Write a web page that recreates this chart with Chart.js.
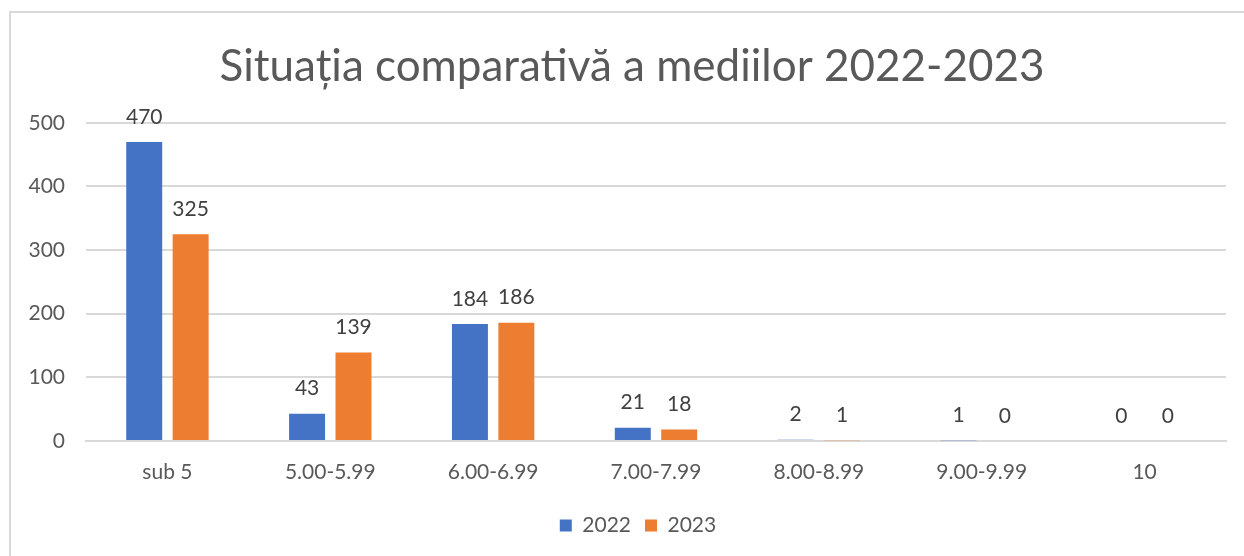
<!DOCTYPE html>
<html>
<head>
<meta charset="utf-8">
<script src="https://cdn.jsdelivr.net/npm/chart.js@4.4.0/dist/chart.umd.min.js"></script>
<style>
  html, body { margin: 0; padding: 0; background: #fff; }
  #wrap { position: relative; width: 1244px; height: 556px; }
  #frame { position: absolute; left: 9px; top: 11px; right: 0; bottom: 0;
           border-left: 2px solid #d9d9d9; border-top: 2px solid #d9d9d9; pointer-events: none; }
</style>
</head>
<body>
<div id="wrap">
  <canvas id="myChart" width="1244" height="556"></canvas>
  <div id="frame"></div>
</div>
<script>
const categories = ["sub 5", "5.00-5.99", "6.00-6.99", "7.00-7.99", "8.00-8.99", "9.00-9.99", "10"];
const values2022 = [470, 43, 184, 21, 2, 1, 0];
const values2023 = [325, 139, 186, 18, 1, 0, 0];
const yTicks = [0, 100, 200, 300, 400, 500];

const fontFamily = "Lato, 'Open Sans', sans-serif";

// simple value labels above each bar
const barLabels = {
  id: "barLabels",
  afterDatasetsDraw(chart) {
    const ctx = chart.ctx;
    ctx.save();
    ctx.fillStyle = "#404040";
    ctx.font = "21px " + fontFamily;
    ctx.textAlign = "center";
    ctx.textBaseline = "middle";
    chart.data.datasets.forEach((ds, i) => {
      chart.getDatasetMeta(i).data.forEach((bar, j) => {
        ctx.fillText(String(ds.data[j]), bar.x, bar.y - 25);
      });
    });
    ctx.restore();
  },
};

// title and legend sit a bit right of centre, like in the excel chart
const shiftBoxes = {
  id: "shiftBoxes",
  afterLayout(chart) {
    chart.titleBlock.left += 38;
    chart.legend.left += 50;
  },
};

function grafikMedii() {
  const ctx = document.getElementById("myChart").getContext("2d");
  new Chart(ctx, {
    type: "bar",
    data: {
      labels: categories,
      datasets: [
        {
          label: "2022",
          data: values2022,
          backgroundColor: "#4472C4",
          categoryPercentage: 0.57,
          barPercentage: 0.775,
        },
        {
          label: "2023",
          data: values2023,
          backgroundColor: "#ED7D31",
          categoryPercentage: 0.57,
          barPercentage: 0.775,
        },
      ],
    },
    options: {
      responsive: false,
      animation: false,
      layout: { padding: { left: 0, right: 18, top: 0, bottom: 10 } },
      plugins: {
        title: {
          display: true,
          text: "Situația comparativă a mediilor 2022-2023",
          color: "#595959",
          font: { family: fontFamily, size: 44, weight: "normal" },
          padding: { top: 40, bottom: 30 },
        },
        legend: {
          position: "bottom",
          labels: {
            color: "#595959",
            font: { family: fontFamily, size: 21 },
            boxWidth: 12,
            boxHeight: 12,
            padding: 14,
          },
        },
        tooltip: { enabled: false },
      },
      scales: {
        x: {
          grid: { display: false, drawTicks: false },
          border: { color: "#d9d9d9", width: 2 },
          ticks: { color: "#595959", font: { family: fontFamily, size: 21 }, padding: 19 },
          afterFit(scale) { scale.height = 60; },
        },
        y: {
          min: 0,
          max: 500,
          afterBuildTicks(scale) { scale.ticks = yTicks.map((v) => ({ value: v })); },
          grid: { color: "#d9d9d9", lineWidth: 2, drawTicks: false },
          border: { display: false },
          ticks: { color: "#595959", font: { family: fontFamily, size: 21 }, padding: 21 },
          afterFit(scale) { scale.width = 86; },
        },
      },
    },
    plugins: [barLabels, shiftBoxes],
  });
}

grafikMedii();
</script>
</body>
</html>
